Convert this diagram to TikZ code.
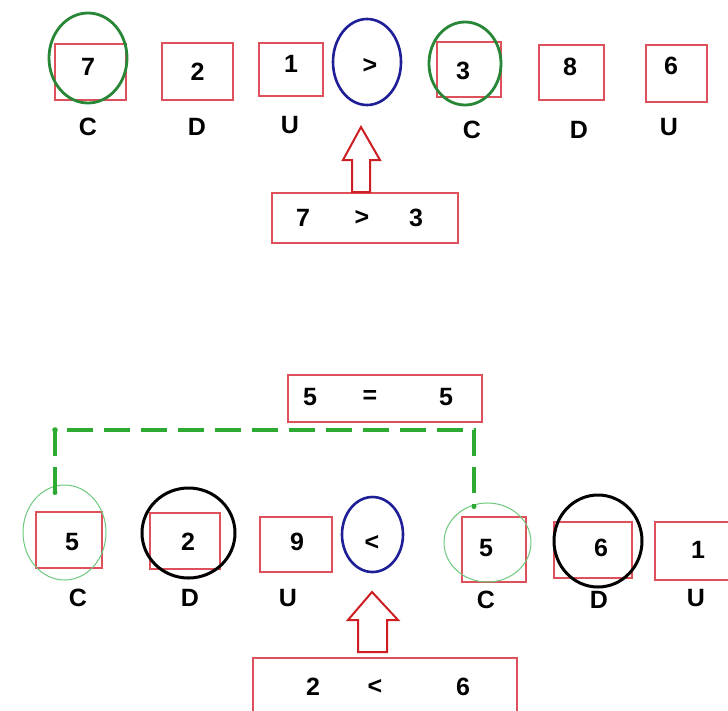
\documentclass[tikz,border=0pt]{standalone}
\usepackage{fontspec}
\setmainfont{Liberation Sans}
\usetikzlibrary{shapes.geometric,calc}
\definecolor{boxred}{RGB}{222,80,90}
\definecolor{arrred}{RGB}{205,30,35}
\definecolor{dkgreen}{RGB}{40,135,55}
\definecolor{ltgreen}{RGB}{110,200,125}
\definecolor{dashgreen}{RGB}{45,170,50}
\definecolor{dkblue}{RGB}{30,30,150}
\begin{document}
\begin{tikzpicture}[x=1pt,y=-1pt,
  txt/.style={font=\bfseries\fontsize{25}{28}\selectfont, inner sep=0pt},
  numbox/.style={draw=boxred, line width=1.3pt, inner sep=0pt, txt},
  gring/.style={draw=dkgreen, line width=2.8pt, ellipse, inner sep=0pt},
  lgring/.style={draw=ltgreen, line width=1pt, ellipse, inner sep=0pt},
  bring/.style={draw=black, line width=3pt, ellipse, inner sep=0pt},
  blring/.style={draw=dkblue, line width=2.6pt, ellipse, inner sep=0pt},
  blockarrow/.style={draw=arrred, line width=2pt, fill=white, line join=miter},
  eqdash/.style={draw=dashgreen, line width=4pt, dash pattern=on 26pt off 11pt}]
\useasboundingbox[fill=white] (0,0) rectangle (728,710);

% ---------- top row ----------
\node[numbox, minimum width=71pt, minimum height=56pt] (t7) at (90.5,72) {};
\node[txt] (t7t) at (88,67) {7};
\node[gring, minimum width=78pt, minimum height=90pt] (tg1) at (88,58) {};
\node[numbox, minimum width=71pt, minimum height=57pt] (t2) at (197.5,71.5) {2};
\node[numbox, minimum width=64pt, minimum height=53pt] (t1) at (291,69.5) {};
\node[txt] (t1t) at (291,64) {1};
\node[blring, minimum width=68pt, minimum height=86pt] (tcmp) at (367,62) {};
\node[txt] (tcmpt) at (370,66) {>};
\node[numbox, minimum width=64pt, minimum height=55pt] (t3) at (469,69.5) {};
\node[txt] (t3t) at (463,71) {3};
\node[gring, minimum width=72pt, minimum height=83pt] (tg2) at (465,63.5) {};
\node[numbox, minimum width=65pt, minimum height=55pt] (t8) at (571.5,72.5) {};
\node[txt] (t8t) at (570,67) {8};
\node[numbox, minimum width=61pt, minimum height=57pt] (t6) at (676.5,73.5) {};
\node[txt] (t6t) at (671,66) {6};

\node[txt] (tlc1) at (88,127) {C};
\node[txt] (tld1) at (197,127) {D};
\node[txt] (tlu1) at (290,125) {U};
\node[txt] (tlc2) at (472,130) {C};
\node[txt] (tld2) at (579,130) {D};
\node[txt] (tlu2) at (669,127) {U};

\node[numbox, minimum width=186pt, minimum height=50pt] (tres) at (365,218) {};
\node[txt] (tr1) at (303,218) {7};
\node[txt] (tr2) at (362,218) {>};
\node[txt] (tr3) at (416,218) {3};

\draw[blockarrow] (352,192) -- (352,160) -- (343,160) -- (361,127)
  -- (380,160) -- (370,160) -- (370,192) -- cycle;

% ---------- bottom row ----------
\node[numbox, minimum width=194pt, minimum height=47pt] (beq) at (385,398.5) {};
\node[txt] (be1) at (310,397) {5};
\node[txt] (be2) at (370,397) {=};
\node[txt] (be3) at (446,397) {5};

\node[numbox, minimum width=66pt, minimum height=56pt] (b5) at (69,540) {};
\node[txt] (b5t) at (72,542) {5};
\node[lgring, minimum width=83pt, minimum height=95pt] (bg1) at (64.5,532.5) {};
\node[numbox, minimum width=70pt, minimum height=56pt] (b2) at (185,541) {};
\node[txt] (b2t) at (188,542) {2};
\node[bring, minimum width=93pt, minimum height=90pt] (bk1) at (188.5,533) {};
\node[numbox, minimum width=72pt, minimum height=55pt] (b9) at (296,544.5) {};
\node[txt] (b9t) at (297,542) {9};
\node[blring, minimum width=61pt, minimum height=75pt] (bcmp) at (372.5,534.5) {};
\node[txt] (bcmpt) at (372,543) {<};
\node[numbox, minimum width=64pt, minimum height=65pt] (b5r) at (494,549.5) {};
\node[txt] (b5rt) at (486,548) {5};
\node[lgring, minimum width=87pt, minimum height=79pt] (bg2) at (487.5,542.5) {};
\node[numbox, minimum width=78pt, minimum height=56pt] (b6) at (593,550) {};
\node[txt] (b6t) at (601,548) {6};
\node[bring, minimum width=88pt, minimum height=92pt] (bk2) at (598,541) {};
\node[numbox, minimum width=86pt, minimum height=58pt] (b1) at (698,551) {};
\node[txt] (b1t) at (698,550) {1};

\node[txt] (blc1) at (78,598) {C};
\node[txt] (bld1) at (190,598) {D};
\node[txt] (blu1) at (288,598) {U};
\node[txt] (blc2) at (486,600) {C};
\node[txt] (bld2) at (599,600) {D};
\node[txt] (blu2) at (696,598) {U};

\coordinate (eqline) at (0,430);
\coordinate (lend) at ([xshift=-9.5pt,yshift=-8pt]bg1.north);
\coordinate (rend) at ([xshift=-13.5pt,yshift=-4pt]bg2.north);
\draw[eqdash] (lend) -- (lend |- eqline) -| (rend);
\fill[dashgreen] (lend |- eqline) circle (2.8pt);
\fill[dashgreen] (lend) circle (2.5pt);
\fill[dashgreen] (rend) circle (2.5pt);

\node[numbox, minimum width=264pt, minimum height=57pt] (bres) at (385,686.5) {};
\node[txt] (br1) at (313,687) {2};
\node[txt] (br2) at (375,687) {<};
\node[txt] (br3) at (463,687) {6};

\draw[blockarrow] (358,652) -- (358,620) -- (348,620) -- (372,592)
  -- (398,620) -- (387,620) -- (387,652) -- cycle;
\end{tikzpicture}
\end{document}
